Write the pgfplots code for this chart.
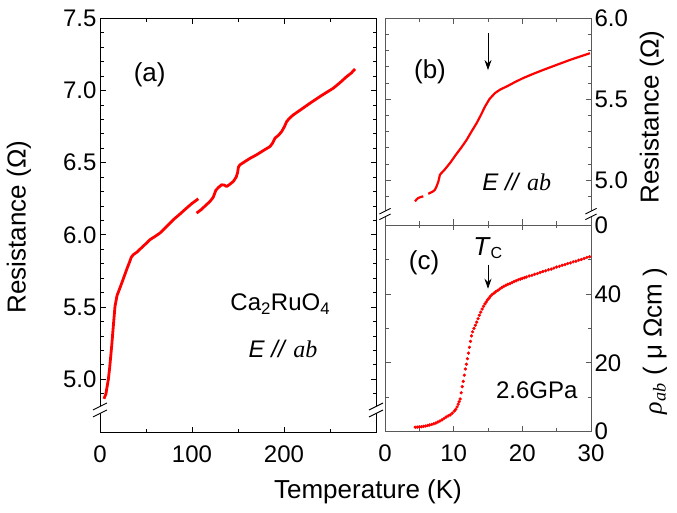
\documentclass[border=0pt]{standalone}
\usepackage{fontspec}
\setmainfont{Liberation Sans}
\newfontfamily\tnr{Liberation Serif}
\usepackage{pgfplots}
\pgfplotsset{compat=1.18}
\usetikzlibrary{arrows.meta}

\newcommand{\fs}[1]{\fontsize{#1}{#1}\selectfont}
% axis break: two slanted strokes over a white gap
\newcommand{\axbreak}[3]{%
  \begin{scope}[shift={(#1pt,#2pt)},scale=#3]
    \fill[white] (-7pt,0pt) -- (7pt,7pt) -- (7pt,0pt) -- (-7pt,-7pt) -- cycle;
    \draw[line width=0.9pt] (-7pt,0pt) -- (7pt,7pt);
    \draw[line width=0.9pt] (-7pt,-7pt) -- (7pt,0pt);
  \end{scope}}

\pgfplotsset{
  panel/.style={
    scale only axis, anchor=south west,
    tick align=inside,
    ticklabel style={font=\fs{24}},
    xticklabel shift=10pt,
    /pgf/number format/assume math mode=true,
    major tick length=5.5pt, minor tick length=3.5pt,
    xtick pos=both, ytick pos=both,
  },
  onedec/.style={yticklabel style={/pgf/number format/.cd, fixed, fixed zerofill, precision=1}},
}

\begin{document}
\begin{tikzpicture}
\useasboundingbox (0pt,0pt) rectangle (677pt,513pt);

% ---- (a) full temperature range
\begin{axis}[panel, onedec,
  at={(100pt,80.7pt)}, width=276pt, height=414pt,
  axis line style={line width=1pt}, every tick/.style={black, line width=0.8pt},
  xmin=0, xmax=300, ymin=4.633, ymax=7.5,
  xtick={0,100,200}, minor xtick={50,150,250},
  ytick={5,5.5,6,6.5,7,7.5},
  minor ytick={4.9,5.1,5.2,5.3,5.4,5.6,5.7,5.8,5.9,6.1,6.2,6.3,6.4,6.6,6.7,6.8,6.9,7.1,7.2,7.3,7.4},
]
\addplot[red, line width=2.8pt, line join=round] coordinates {
 (4.3,4.865) (6.5,4.90) (7.2,4.93) (9.1,5.0) (10.5,5.08) (12.7,5.23) (14.5,5.37)
 (16.3,5.505) (18.5,5.58) (21.7,5.633) (25,5.69) (28.9,5.759) (32,5.81) (34,5.845)
 (36.2,5.863) (40,5.88) (45,5.91) (50,5.94) (54.3,5.967) (60,5.99) (65.2,6.013)
 (72,6.055) (79.7,6.105) (87,6.145) (94.2,6.186) (100,6.218) (106.9,6.25)
};
\addplot[red, line width=2.8pt, line join=round] coordinates {
 (105,6.151) (110,6.175) (115,6.205) (119.6,6.232) (123,6.26) (126,6.31) (129,6.33)
 (132.2,6.347) (135,6.345) (137.7,6.335) (141,6.35) (144.9,6.37) (148,6.40) (149.5,6.43)
 (150.5,6.47) (152,6.485) (157.6,6.508) (163,6.53) (170.3,6.555) (177,6.582) (184.8,6.612)
 (187.5,6.635) (190.2,6.67) (194,6.69) (197.5,6.716) (200.5,6.75) (202.9,6.785) (206,6.808)
 (210.1,6.831) (220,6.875) (228.3,6.912) (240,6.962) (253.6,7.016) (261,7.055)
 (268.1,7.096) (273,7.12) (277.2,7.149)
};
\node[font=\fs{26}] at (axis cs:54,7.11) {(a)};
\node[font=\fs{24}] at (axis cs:196,5.52) {Ca\textsubscript{2}RuO\textsubscript{4}};
\node[font=\fs{24}] at (axis cs:199,5.21) {\textit{E //} {\tnr\itshape ab}};
\end{axis}

% ---- (b) low temperature, ambient pressure
\begin{axis}[panel, onedec,
  at={(385pt,288pt)}, width=206pt, height=206.7pt,
  axis line style={black!65, line width=0.8pt}, every tick/.style={black!65, line width=0.7pt},
  xmin=0, xmax=30, ymin=4.722, ymax=6.0,
  xtick={0,10,20,30}, xticklabels={}, minor xtick={5,15,25},
  ytick={5,5.5,6}, minor ytick={4.8,4.9,5.1,5.2,5.3,5.4,5.6,5.7,5.8,5.9},
  yticklabel pos=right,
]
\addplot[red, line width=2.2pt, line join=round] coordinates {
 (4.37,4.868) (4.6,4.88) (4.85,4.889) (5.2,4.895) (5.58,4.899)
};
\addplot[red, line width=2.2pt, line join=round] coordinates {
 (6.3,4.915) (6.55,4.92) (7.0,4.93) (7.28,4.94) (7.5,4.96) (7.77,4.99) (8.0,5.033)
 (8.7,5.065) (9.47,5.105) (10.3,5.155) (11.1,5.20) (11.9,5.249) (12.6,5.30) (13.35,5.352)
 (14.0,5.405) (14.56,5.454) (15.2,5.50) (16.0,5.537) (16.8,5.56) (17.7,5.578) (18.9,5.605)
 (20.1,5.630) (21.5,5.655) (23.05,5.681) (25,5.712) (26.9,5.742) (28.5,5.765) (29.85,5.784)
};
\draw[-{Stealth[length=10pt,width=7pt]}, line width=0.8pt] (axis cs:15,5.91) -- (axis cs:15,5.68);
\node[font=\fs{26}] at (axis cs:6.55,5.67) {(b)};
\node[font=\fs{24}] at (axis cs:19.2,4.99) {\textit{E //} {\tnr\itshape ab}};
\end{axis}

% ---- (c) resistivity at 2.6 GPa
\begin{axis}[panel,
  at={(385pt,81.3pt)}, width=206pt, height=206.7pt,
  axis line style={black!65, line width=0.8pt}, every tick/.style={black!65, line width=0.7pt},
  xmin=0, xmax=30, ymin=0, ymax=60,
  xtick={0,10,20,30}, minor xtick={5,15,25},
  ytick={0,20,40,60}, yticklabels={0,20,40,0}, minor ytick={10,30,50},
  yticklabel pos=right,
]
\addplot[red, only marks, mark=*, mark size=1.45pt] coordinates {
 (4.4,1.3) (4.7,1.35) (5.0,1.4) (5.3,1.45) (5.6,1.55) (5.9,1.65) (6.2,1.8) (6.5,1.95)
 (6.8,2.1) (7.1,2.3) (7.4,2.5) (7.7,2.8) (8.0,3.1) (8.3,3.45) (8.6,3.85) (8.9,4.25)
 (9.2,4.6) (9.5,4.9) (9.8,5.4) (10.1,6.0) (10.3,6.5) (10.5,7.2) (10.65,8.0) (10.8,8.7)
 (10.95,9.5) (11.1,11.3) (11.25,13.1) (11.4,14.6) (11.55,16.4) (11.7,18.2) (11.85,19.6)
 (12.0,21.2) (12.15,22.8) (12.3,24.5) (12.45,26.2) (12.6,27.8) (12.75,29.0) (12.95,30.0)
 (13.15,30.9) (13.35,31.8) (13.55,32.8) (13.75,33.8) (13.95,34.7) (14.15,35.6) (14.35,36.4)
 (14.55,37.1) (14.75,37.7) (14.95,38.3) (15.15,38.8) (15.35,39.3) (15.6,39.8) (15.85,40.2)
 (16.1,40.6) (16.4,41.0) (16.7,41.4) (17.0,41.8) (17.3,42.2) (17.6,42.5) (17.9,42.8)
 (18.2,43.0) (18.5,43.3) (18.8,43.6) (19.1,43.8) (19.4,44.1) (19.7,44.3) (20.0,44.5)
 (20.3,44.7) (20.6,44.9) (21.0,45.2) (21.4,45.4) (21.8,45.7) (22.2,45.9) (22.6,46.2)
 (23.0,46.5) (23.4,46.7) (23.8,47.0) (24.2,47.2) (24.6,47.5) (25.0,47.8) (25.4,48.0)
 (25.8,48.3) (26.2,48.5) (26.6,48.8) (27.0,49.0) (27.4,49.3) (27.8,49.5) (28.2,49.8)
 (28.6,50.0) (29.0,50.3) (29.4,50.6) (29.8,50.8)
};
\draw[-{Stealth[length=10pt,width=7pt]}, line width=0.8pt] (axis cs:15,48.5) -- (axis cs:15,41.5);
\node[font=\fs{26}] at (axis cs:15,53.3) {\textit{T}\textsubscript{\fs{16}C}};
\node[font=\fs{26}] at (axis cs:5.7,49) {(c)};
\node[font=\fs{24}] at (axis cs:22.1,12.1) {2.6GPa};
\end{axis}

% axis breaks
\axbreak{100}{103}{1}
\axbreak{376}{103}{1}
\axbreak{385}{299}{0.8}
\axbreak{591}{299}{0.8}

% axis titles
\node[font=\fs{26}] at (368pt,21pt) {Temperature (K)};
\node[font=\fs{26}, rotate=90] at (19pt,286pt) {Resistance (Ω)};
\node[font=\fs{26}, rotate=90] at (652pt,396pt) {Resistance (Ω)};
\node[font=\fs{26}, rotate=90] at (655pt,172pt) {{\tnr\itshape ρ}\textsubscript{\tnr\itshape ab}\ (\ μ\ Ωcm\ )};
\end{tikzpicture}
\end{document}
